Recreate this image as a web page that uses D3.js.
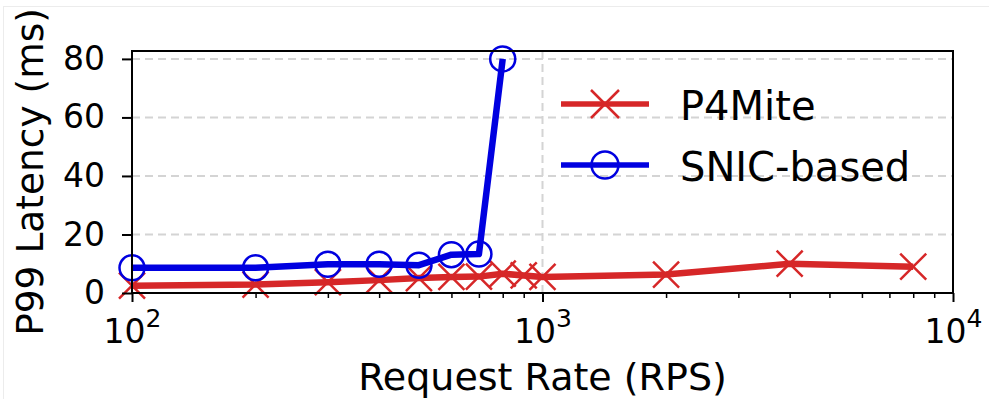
<!DOCTYPE html>
<html>
<head>
<meta charset="utf-8">
<script src="https://cdn.jsdelivr.net/npm/d3@7"></script>
<style>
  html, body { margin: 0; padding: 0; background: #fff; }
  svg { display: block; font-family: "DejaVu Sans", sans-serif; }
</style>
</head>
<body>
<div id="vis-tag"></div>
<script>
// data
const p4miteRps = [100, 200, 300, 400, 500, 600, 700, 800, 900, 1000, 2000, 4000, 8000];
const p4miteLatency = [2.5, 2.9, 3.7, 4.4, 5.1, 5.5, 5.6, 6.6, 6.0, 5.5, 6.3, 10.0, 9.0];
const snicRps = [100, 200, 300, 400, 500, 600, 700, 800];
const snicLatency = [8.6, 8.6, 9.8, 9.8, 9.5, 13.1, 13.3, 80];
const yTicks = [0, 20, 40, 60, 80];
const xMajor = [100, 1000, 10000];
const xMinor = [200, 300, 400, 500, 600, 700, 800, 900, 2000, 3000, 4000, 5000, 6000, 7000, 8000, 9000];
const seriesNames = ["P4Mite", "SNIC-based"];
const seriesColors = ["#d62728", "#0000e0"];

const width = 989, height = 399;
const margin = { top: 51, right: 36, bottom: 106, left: 132 };

const svg = d3.select("#vis-tag").append("svg")
  .attr("width", width).attr("height", height);

// faint border of the original picture
svg.append("rect").attr("x", 3.5).attr("y", 6.5)
  .attr("width", width).attr("height", height)
  .attr("fill", "none").attr("stroke", "#ececec");

const x = d3.scaleLog().domain([100, 10000]).range([margin.left, width - margin.right]);
const y = d3.scaleLinear().domain([0, 82.7]).range([height - margin.bottom, margin.top]);

// grid
const grid = svg.append("g").attr("stroke", "#d4d4d4").attr("stroke-width", 2).attr("stroke-dasharray", "8,5");
grid.selectAll(".hg").data(yTicks.filter(d => d > 0)).enter().append("line")
  .attr("x1", margin.left).attr("x2", width - margin.right)
  .attr("y1", d => y(d)).attr("y2", d => y(d));
grid.selectAll(".vg").data(xMajor.slice(1, 2)).enter().append("line")
  .attr("x1", d => x(d)).attr("x2", d => x(d))
  .attr("y1", margin.top).attr("y2", height - margin.bottom);

// lines + markers
const line = d3.line().x(d => x(d[0])).y(d => y(d[1]));
const redData = p4miteRps.map((r, i) => [r, p4miteLatency[i]]);
const blueData = snicRps.map((r, i) => [r, snicLatency[i]]);

function crossPath(cx, cy, s) {
  return `M${cx - s},${cy - s}L${cx + s},${cy + s}M${cx - s},${cy + s}L${cx + s},${cy - s}`;
}

const plot = svg.append("g");
plot.append("path").datum(redData).attr("d", line)
  .attr("fill", "none").attr("stroke", seriesColors[0]).attr("stroke-width", 6.5)
  .attr("stroke-linejoin", "round");
plot.selectAll(".xm").data(redData).enter().append("path")
  .attr("d", d => crossPath(x(d[0]), y(d[1]), 13))
  .attr("stroke", seriesColors[0]).attr("stroke-width", 2.5).attr("fill", "none");

plot.append("path").datum(blueData).attr("d", line)
  .attr("fill", "none").attr("stroke", seriesColors[1]).attr("stroke-width", 6.5)
  .attr("stroke-linejoin", "round");
plot.selectAll(".cm").data(blueData).enter().append("circle")
  .attr("cx", d => x(d[0])).attr("cy", d => y(d[1])).attr("r", 12.5)
  .attr("fill", "none").attr("stroke", seriesColors[1]).attr("stroke-width", 2.5);

// frame
svg.append("rect")
  .attr("x", margin.left).attr("y", margin.top)
  .attr("width", width - margin.right - margin.left)
  .attr("height", height - margin.bottom - margin.top)
  .attr("fill", "none").attr("stroke", "#000").attr("stroke-width", 2);

// y axis
const yAxis = svg.append("g").attr("transform", `translate(${margin.left},0)`)
  .call(d3.axisLeft(y).tickValues(yTicks).tickSize(10).tickPadding(17).tickFormat(d3.format("d")));
yAxis.select(".domain").remove();
yAxis.selectAll(".tick line").attr("stroke-width", 2);
yAxis.selectAll(".tick text").attr("font-size", 33).attr("fill", "#000")
  .attr("font-family", "DejaVu Sans");

// x axis minor ticks
const xMinorAxis = svg.append("g").attr("transform", `translate(0,${height - margin.bottom})`)
  .call(d3.axisBottom(x).tickValues(xMinor).tickSize(5).tickFormat(""));
xMinorAxis.select(".domain").remove();
xMinorAxis.selectAll(".tick line").attr("stroke-width", 1.5);

// x axis major ticks with 10^n labels
const xAxis = svg.append("g").attr("transform", `translate(0,${height - margin.bottom})`)
  .call(d3.axisBottom(x).tickValues(xMajor).tickSize(9).tickFormat(""));
xAxis.select(".domain").remove();
xAxis.selectAll(".tick line").attr("stroke-width", 2);
xAxis.selectAll(".tick").append("text")
  .attr("y", 50).attr("fill", "#000").attr("text-anchor", "middle")
  .attr("font-size", 33).attr("font-family", "DejaVu Sans")
  .each(function (d) {
    const t = d3.select(this);
    t.append("tspan").text("10");
    t.append("tspan").attr("dy", -16).attr("font-size", 25).text(Math.round(Math.log10(d)));
  });

// axis labels
svg.append("text")
  .attr("x", (margin.left + width - margin.right) / 2).attr("y", 390)
  .attr("text-anchor", "middle").attr("font-size", 38).attr("fill", "#000")
  .text("Request Rate (RPS)");
svg.append("text")
  .attr("transform", `translate(43,${(margin.top + height - margin.bottom) / 2}) rotate(-90)`)
  .attr("text-anchor", "middle").attr("font-size", 37.5).attr("fill", "#000")
  .text("P99 Latency (ms)");

// legend
const legend = svg.append("g");
seriesNames.forEach((name, i) => {
  const ly = 104 + i * 61;
  legend.append("line").attr("x1", 561).attr("x2", 649).attr("y1", ly).attr("y2", ly)
    .attr("stroke", seriesColors[i]).attr("stroke-width", 5.5);
  if (i === 0) {
    legend.append("path").attr("d", crossPath(605, ly, 14))
      .attr("stroke", seriesColors[i]).attr("stroke-width", 2.5).attr("fill", "none");
  } else {
    legend.append("circle").attr("cx", 605).attr("cy", ly).attr("r", 13.5)
      .attr("fill", "none").attr("stroke", seriesColors[i]).attr("stroke-width", 2.5);
  }
  legend.append("text").attr("x", 680).attr("y", ly + 16)
    .attr("font-size", 40).attr("fill", "#000").text(name);
});
</script>
</body>
</html>
